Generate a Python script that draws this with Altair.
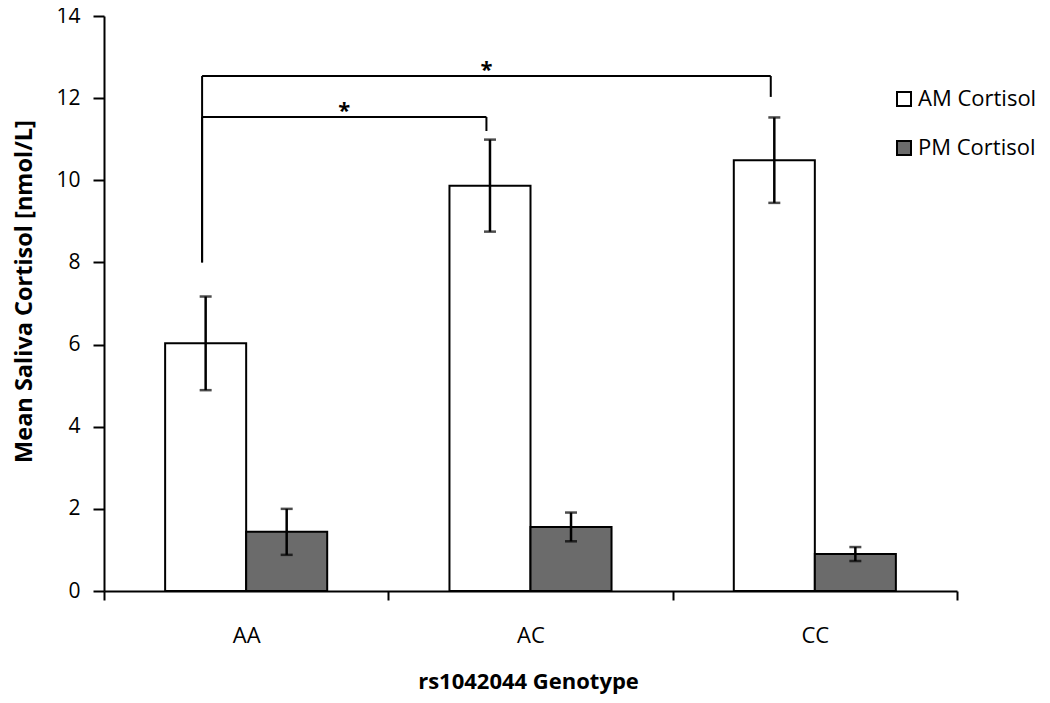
import altair as alt
import pandas as pd

# ---- data ----
genotypes = ["AA", "AC", "CC"]
series = ["AM Cortisol", "PM Cortisol"]
am_mean = [6.03, 9.87, 10.49]
am_err = [1.14, 1.12, 1.04]
pm_mean = [1.44, 1.56, 0.90]
pm_err = [0.56, 0.35, 0.17]

# significance brackets (AM comparisons)
sig_from = ["AA", "AA"]
sig_to = ["AC", "CC"]
sig_height = [11.54, 12.54]
sig_left_low = [8.0, 8.0]
sig_right_low = [11.2, 12.03]
sig_label = ["*", "*"]

y_ticks = [0, 2, 4, 6, 8, 10, 12, 14]

# ---- layout helpers (fractions of a category band) ----
BAR_W = 0.285
BRK_OFF = 0.155

rows = []
for i, g in enumerate(genotypes):
    c = i + 0.5
    for s, m, e, x0, x1 in [
        (series[0], am_mean[i], am_err[i], c - BAR_W, c),
        (series[1], pm_mean[i], pm_err[i], c, c + BAR_W),
    ]:
        rows.append(dict(genotype=g, series=s, mean=m, lo=m - e, hi=m + e,
                         x0=x0, x1=x1, xc=(x0 + x1) / 2))
bars = pd.DataFrame(rows)

hrows, vrows, trows = [], [], []
for a, b, h, ll, rl, lab in zip(sig_from, sig_to, sig_height, sig_left_low, sig_right_low, sig_label):
    xa = genotypes.index(a) + 0.5 - BRK_OFF
    xb = genotypes.index(b) + 0.5 - BRK_OFF
    hrows.append(dict(x=xa, x2=xb, y=h))
    vrows.append(dict(x=xa, y=ll, y2=h))
    vrows.append(dict(x=xb, y=rl, y2=h))
    trows.append(dict(x=(xa + xb) / 2, y=h, t=lab))
hdf, vdf, tdf = pd.DataFrame(hrows), pd.DataFrame(vrows), pd.DataFrame(trows)

FONT = "Open Sans"
label_expr = ("datum.value % 1 != 0 ? " + str(genotypes) +
              "[floor(datum.value)] : ''")

xscale = alt.Scale(domain=[0, 3], nice=False, zero=False)
yscale = alt.Scale(domain=[0, 14], nice=False)

x_axis = alt.Axis(
    values=[0, 0.5, 1, 1.5, 2, 2.5, 3], labelExpr=label_expr,
    title="rs1042044 Genotype", titleFont=FONT, titleFontSize=22, titleFontWeight="bold",
    titleX=424, titleY=97, titleBaseline="alphabetic", titleColor="black",
    labelFont=FONT, labelFontSize=22, labelColor="black", labelPadding=42,
    labelBaseline="alphabetic",
    labelOverlap=False, labelFlush=False,
    tickSize=9, tickWidth=2, tickColor="black",
    tickOpacity=alt.condition("datum.value % 1 == 0", alt.value(1), alt.value(0)),
    domainColor="black", domainWidth=2, grid=False,
)
y_axis = alt.Axis(
    values=y_ticks, title="Mean Saliva Cortisol [nmol/L]", titleFont=FONT,
    titleFontSize=23.5, titleFontWeight="bold", titleColor="black",
    titleX=-73, titleY=275, titleAngle=270, titleAlign="center", titleBaseline="alphabetic",
    labelFont=FONT, labelFontSize=21, labelColor="black", labelPadding=13,
    tickSize=11, tickWidth=2, tickColor="black",
    domainColor="black", domainWidth=2, grid=False,
)

bar_layer = alt.Chart(bars).mark_bar(stroke="black", strokeWidth=2).encode(
    x=alt.X("x0:Q", scale=xscale, axis=x_axis),
    x2="x1:Q",
    y=alt.Y("mean:Q", scale=yscale, axis=y_axis),
    y2=alt.datum(0),
    color=alt.Color("series:N", scale=alt.Scale(domain=series, range=["white", "#6b6b6b"]),
                    legend=alt.Legend(title=None, orient="none", legendX=789, legendY=72,
                                      symbolType="square", symbolSize=196,
                                      symbolStrokeColor="black", symbolStrokeWidth=2,
                                      labelFont=FONT, labelFontSize=22, labelColor="black",
                                      labelOffset=3, labelLimit=0, rowPadding=27, padding=0)),
)

err_rule = alt.Chart(bars).mark_rule(color="black", strokeWidth=2.5).encode(
    x="xc:Q", y="lo:Q", y2="hi:Q")
err_top = alt.Chart(bars).mark_tick(color="black", orient="horizontal", size=12, thickness=2.5).encode(
    x="xc:Q", y="hi:Q")
err_bot = alt.Chart(bars).mark_tick(color="black", orient="horizontal", size=12, thickness=2.5).encode(
    x="xc:Q", y="lo:Q")

brk_h = alt.Chart(hdf).mark_rule(color="black", strokeWidth=2).encode(
    x="x:Q", x2="x2:Q", y="y:Q")
brk_v = alt.Chart(vdf).mark_rule(color="black", strokeWidth=2).encode(
    x="x:Q", y="y:Q", y2="y2:Q")
stars = alt.Chart(tdf).mark_text(font=FONT, fontSize=22, fontWeight="bold", color="black",
                                 baseline="alphabetic", dy=1).encode(
    x="x:Q", y="y:Q", text="t:N")

chart = alt.layer(bar_layer, err_rule, err_top, err_bot, brk_h, brk_v, stars).properties(
    width=853, height=575,
    autosize=alt.AutoSizeParams(type="none"),
    padding={"left": 96, "top": 8, "right": 85, "bottom": 104},
    background="white",
).configure_view(stroke=None)

chart.save("out.html", embed_options={"renderer": "svg", "actions": False})
